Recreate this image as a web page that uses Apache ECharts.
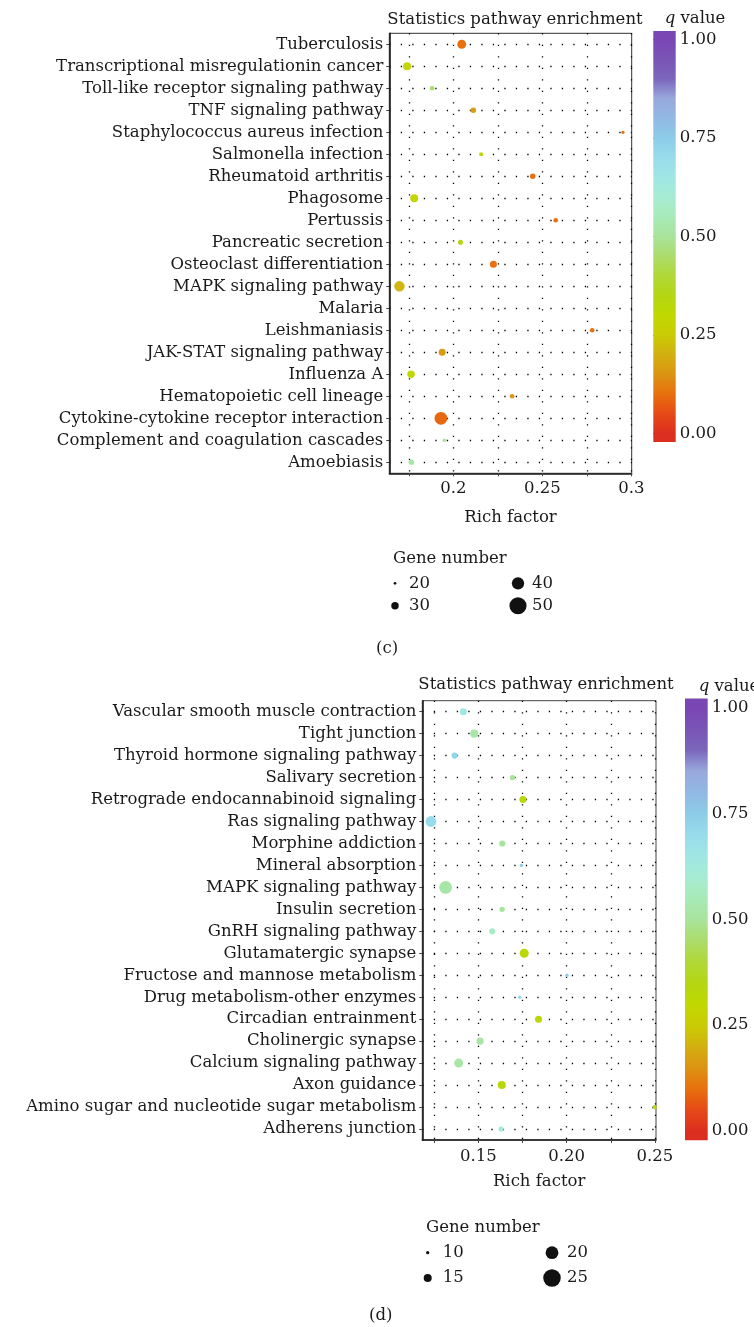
<!DOCTYPE html>
<html>
<head>
<meta charset="utf-8">
<script src="https://cdn.jsdelivr.net/npm/echarts@6/dist/echarts.min.js"></script>
<style>
  html, body { margin: 0; padding: 0; background: #fff; }
  #chart { width: 754px; height: 1327px; }
</style>
</head>
<body>
<div id="chart"></div>
<script>
// panel (c)
const pathwaysC = ['Tuberculosis', 'Transcriptional misregulationin cancer', 'Toll-like receptor signaling pathway',
  'TNF signaling pathway', 'Staphylococcus aureus infection', 'Salmonella infection', 'Rheumatoid arthritis',
  'Phagosome', 'Pertussis', 'Pancreatic secretion', 'Osteoclast differentiation', 'MAPK signaling pathway',
  'Malaria', 'Leishmaniasis', 'JAK-STAT signaling pathway', 'Influenza A', 'Hematopoietic cell lineage',
  'Cytokine-cytokine receptor interaction', 'Complement and coagulation cascades', 'Amoebiasis'];
const richC = [0.2047, 0.174, 0.188, 0.2112, 0.2953, 0.2156, 0.2446, 0.178, 0.2575, 0.204, 0.2225, 0.1697,
  null, 0.278, 0.1937, 0.1762, 0.233, 0.193, 0.195, 0.1764];
const qC = [0.10, 0.29, 0.45, 0.17, 0.10, 0.30, 0.10, 0.29, 0.10, 0.35, 0.10, 0.21,
  null, 0.10, 0.16, 0.29, 0.15, 0.09, 0.50, 0.52];
const genesC = [33, 31, 24, 26, 21, 23, 26, 31, 24, 25, 29, 36, null, 24, 29, 30, 24, 41, 22, 26];
const ticksC = [0.175, 0.2, 0.225, 0.25, 0.275, 0.3];
const labelsC = [0.2, 0.25, 0.3];
const legendC = [20, 30, 40, 50];

// panel (d)
const pathwaysD = ['Vascular smooth muscle contraction', 'Tight junction', 'Thyroid hormone signaling pathway',
  'Salivary secretion', 'Retrograde endocannabinoid signaling', 'Ras signaling pathway', 'Morphine addiction',
  'Mineral absorption', 'MAPK signaling pathway', 'Insulin secretion', 'GnRH signaling pathway',
  'Glutamatergic synapse', 'Fructose and mannose metabolism', 'Drug metabolism-other enzymes',
  'Circadian entrainment', 'Cholinergic synapse', 'Calcium signaling pathway', 'Axon guidance',
  'Amino sugar and nucleotide sugar metabolism', 'Adherens junction'];
const richD = [0.1415, 0.1477, 0.1366, 0.1693, 0.1753, 0.1232, 0.1636, 0.1744, 0.1315, 0.1635, 0.1579,
  0.176, 0.2002, 0.1734, 0.1841, 0.151, 0.1389, 0.1633, 0.2498, 0.1629];
const qD = [0.64, 0.52, 0.72, 0.50, 0.33, 0.70, 0.50, 0.75, 0.52, 0.50, 0.58,
  0.32, 0.75, 0.72, 0.32, 0.52, 0.52, 0.33, 0.33, 0.62];
const genesD = [14, 15, 13, 12, 14, 18, 13, 10, 20, 12, 13, 16, 10, 10, 14, 14, 16, 15, 11, 12];
const ticksD = [0.125, 0.15, 0.175, 0.2, 0.225, 0.25];
const labelsD = [0.15, 0.2, 0.25];
const legendD = [10, 15, 20, 25];

// q value colour scale, evenly spaced from 0 to 1
const qColors = ['#dc2e20', '#e64a16', '#e8700e', '#dc9412', '#d2b010', '#cacc04', '#c0d800', '#b4d614',
  '#b0d838', '#acdc6c', '#a8e49c', '#a8eab8', '#a6ecd4', '#a0e6e4', '#98dcec', '#8ccce8', '#92b8e4',
  '#98a8dc', '#7a66bc', '#7a54b6', '#7a46b4'];

const FONT = 'DejaVu Serif';
const FS = 16.5;
const INK = '#1a1a1a';

const sizeC = g => 2.7 + (g - 20) * 0.48;
const sizeD = g => 3.3 + (g - 10) * 0.95;

function points(rich, q, genes) {
  return rich.map((r, i) => r == null ? [null, i, null, null] : [r, i, q[i], genes[i]]);
}

function dotted() {
  return { show: true, interval: 0, lineStyle: { color: '#000', width: 1.3, type: [1.3, 10.2] } };
}

function mainX(idx, ticks, labels, min, max, fmt, margin, nameGap) {
  return {
    gridIndex: idx, type: 'value', min: min, max: max,
    name: 'Rich factor', nameLocation: 'middle', nameGap: nameGap,
    nameTextStyle: { fontFamily: FONT, fontSize: FS, color: INK },
    axisLine: { show: true, lineStyle: { color: INK, width: 1.6 } },
    axisTick: { show: true, length: 3, lineStyle: { color: '#444' }, customValues: ticks },
    axisLabel: { customValues: labels, formatter: fmt, fontFamily: FONT, fontSize: FS, color: INK, margin: margin },
    splitLine: dotted()
  };
}

function mainY(idx, cats) {
  return {
    gridIndex: idx, type: 'category', data: cats, inverse: true,
    axisLine: { show: true, lineStyle: { color: INK, width: 1.6 } },
    axisTick: { show: true, length: 3, interval: 0, alignWithLabel: true, lineStyle: { color: '#444' } },
    axisLabel: { interval: 0, fontFamily: FONT, fontSize: FS, color: INK, margin: 6 },
    splitLine: Object.assign(dotted(), { alignWithLabel: true })
  };
}

// colour bar drawn through its own axis, slightly overhanging 0 and 1
const barLo = -0.022, barHi = 1.021;
function colorBarStops() {
  return qColors.map((c, i) => ({
    offset: (i / (qColors.length - 1) - barLo) / (barHi - barLo), color: c
  }));
}
function colorBarSeries(xi, yi) {
  return {
    type: 'custom', xAxisIndex: xi, yAxisIndex: yi, silent: true, clip: false,
    data: [[0, 0]],
    renderItem: function (params, api) {
      const p0 = api.coord([0, barLo]);
      const p1 = api.coord([1, barHi]);
      return {
        type: 'rect',
        shape: { x: p0[0], y: p1[1], width: p1[0] - p0[0], height: p0[1] - p1[1] },
        style: {
          fill: { type: 'linear', x: 0, y: 1, x2: 0, y2: 0, colorStops: colorBarStops() }
        }
      };
    }
  };
}

function legendSeries(xi, yi, counts, sizeFn, offset) {
  return {
    type: 'scatter', xAxisIndex: xi, yAxisIndex: yi, silent: true, clip: false,
    itemStyle: { color: '#111', opacity: 1 },
    data: counts.map((g, i) => {
      const s = sizeFn(g);
      return {
        value: [i < 2 ? 0 : 1, i % 2, g],
        symbolSize: s,
        label: { show: true, position: 'right', distance: offset - s / 2, formatter: String(g),
          fontFamily: FONT, fontSize: FS, color: INK }
      };
    })
  };
}

const hidden = idx => ({ gridIndex: idx, type: 'value', min: 0, max: 1, show: false });
const plainText = { fontFamily: FONT, fontSize: FS, fontWeight: 'normal', color: INK };
const qTitle = Object.assign({}, plainText, {
  rich: { q: { fontFamily: FONT, fontSize: FS, fontStyle: 'italic', color: INK } }
});

const option = {
  animation: false,
  textStyle: { fontFamily: FONT },
  title: [
    { text: 'Statistics pathway enrichment', left: 510, top: 6, textAlign: 'center', textStyle: plainText },
    { text: '{q|q} value', left: 690, top: 5, textAlign: 'center', textStyle: qTitle },
    { text: 'Gene number', left: 388, top: 545, textStyle: plainText },
    { text: '(c)', left: 371, top: 635, textStyle: plainText },
    { text: 'Statistics pathway enrichment', left: 541, top: 671, textAlign: 'center', textStyle: plainText },
    { text: '{q|q} value', left: 724, top: 673, textAlign: 'center', textStyle: qTitle },
    { text: 'Gene number', left: 421, top: 1214, textStyle: plainText },
    { text: '(d)', left: 364, top: 1302, textStyle: plainText }
  ],
  grid: [
    { left: 389.3, top: 33.3, width: 242.4, height: 440, show: true, borderColor: '#333', borderWidth: 1 },
    { left: 422.3, top: 700.7, width: 233.7, height: 439.3, show: true, borderColor: '#444', borderWidth: 1 },
    { left: 653.3, top: 39.3, width: 22.4, height: 394 },
    { left: 685, top: 707.5, width: 22.7, height: 423.5 },
    { left: 395, top: 583.3, width: 123, height: 22.4 },
    { left: 427.7, top: 1252.7, width: 124.3, height: 25.3 }
  ],
  xAxis: [
    mainX(0, ticksC, labelsC, 0.164, 0.3002, v => String(v), 7, 36),
    mainX(1, ticksD, labelsD, 0.1183, 0.2506, v => v.toFixed(2), 8, 33),
    hidden(2), hidden(3), hidden(4), hidden(5)
  ],
  yAxis: [
    mainY(0, pathwaysC),
    mainY(1, pathwaysD),
    { gridIndex: 2, type: 'value', min: 0, max: 1, interval: 0.25, position: 'right',
      axisLine: { show: false }, splitLine: { show: false },
      axisTick: { show: true, length: 3, lineStyle: { color: '#444' } },
      axisLabel: { formatter: v => v.toFixed(2), fontFamily: FONT, fontSize: FS, color: INK, margin: 4 } },
    { gridIndex: 3, type: 'value', min: 0, max: 1, interval: 0.25, position: 'right',
      axisLine: { show: false }, splitLine: { show: false },
      axisTick: { show: true, length: 3, lineStyle: { color: '#444' } },
      axisLabel: { formatter: v => v.toFixed(2), fontFamily: FONT, fontSize: FS, color: INK, margin: 4 } },
    Object.assign(hidden(4), { inverse: true }),
    Object.assign(hidden(5), { inverse: true })
  ],
  visualMap: [
    { show: false, seriesIndex: 0, dimension: 2, min: 0, max: 1, inRange: { color: qColors } },
    { show: false, seriesIndex: 1, dimension: 2, min: 0, max: 1, inRange: { color: qColors } }
  ],
  series: [
    { type: 'scatter', xAxisIndex: 0, yAxisIndex: 0, clip: false, itemStyle: { opacity: 1 },
      data: points(richC, qC, genesC), symbolSize: d => sizeC(d[3]) },
    { type: 'scatter', xAxisIndex: 1, yAxisIndex: 1, clip: false, itemStyle: { opacity: 1 },
      data: points(richD, qD, genesD), symbolSize: d => sizeD(d[3]) },
    colorBarSeries(2, 2),
    colorBarSeries(3, 3),
    legendSeries(4, 4, legendC, sizeC, 14),
    legendSeries(5, 5, legendD, sizeD, 15)
  ]
};

const myChart = echarts.init(document.getElementById('chart'));
myChart.setOption(option);
</script>
</body>
</html>
